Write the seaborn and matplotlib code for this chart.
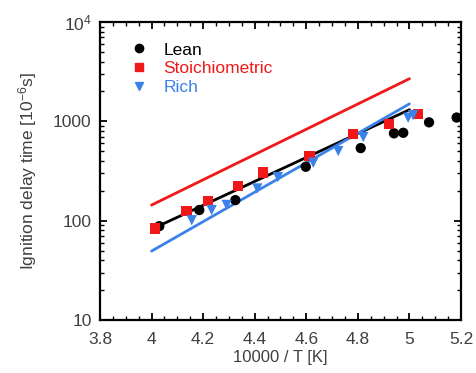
import numpy as np
import pandas as pd
import matplotlib
matplotlib.use("Agg")
import matplotlib.pyplot as plt
from matplotlib.ticker import (FixedLocator, FixedFormatter, MultipleLocator,
                               LogLocator, NullFormatter, FuncFormatter)
import seaborn as sns

# Measured ignition delay times (10000/T in K^-1, delay in microseconds)
lean_x = [4.03, 4.185, 4.325, 4.598, 4.811, 4.94, 4.976, 5.076, 5.183]
lean_y = [88, 128, 161, 349, 538, 757, 767, 977, 1092]

stoich_x = [4.013, 4.136, 4.218, 4.336, 4.433, 4.612, 4.78, 4.921, 5.033]
stoich_y = [83.5, 126, 157, 223, 306, 448, 745, 940, 1186]

rich_x = [4.156, 4.233, 4.291, 4.41, 4.49, 4.627, 4.724, 4.821, 4.995, 5.014]
rich_y = [101, 128, 144, 211, 275, 383, 502, 695, 1087, 1156]

# Arrhenius fit lines (end points)
fit_x = [4.0, 5.0]
lean_fit = [82, 1310]
stoich_fit = [143.6, 2686]
rich_fit = [49.4, 1500]

labels = ["Lean", "Stoichiometric", "Rich"]
colors = ["#000000", "#f01818", "#3a82ea"]
markers = ["o", "s", "v"]

sns.set_style("ticks")
plt.rcParams["font.family"] = ["Liberation Sans", "DejaVu Sans"]
plt.rcParams["mathtext.fontset"] = "custom"
plt.rcParams["mathtext.rm"] = "Liberation Sans"
plt.rcParams["mathtext.it"] = "Liberation Sans:italic"
plt.rcParams["mathtext.default"] = "regular"

text_col = "#404040"

fig = plt.figure(figsize=(4.77, 3.73), dpi=100)
ax = fig.add_axes([0.2096, 0.1421, 0.7569, 0.7989])

pts = pd.concat([
    pd.DataFrame({"x": lean_x, "y": lean_y, "set": labels[0]}),
    pd.DataFrame({"x": stoich_x, "y": stoich_y, "set": labels[1]}),
    pd.DataFrame({"x": rich_x, "y": rich_y, "set": labels[2]}),
])
fits = pd.concat([
    pd.DataFrame({"x": fit_x, "y": lean_fit, "set": labels[0]}),
    pd.DataFrame({"x": fit_x, "y": stoich_fit, "set": labels[1]}),
    pd.DataFrame({"x": fit_x, "y": rich_fit, "set": labels[2]}),
])
palette = dict(zip(labels, colors))

sns.lineplot(data=fits, x="x", y="y", hue="set", palette=palette,
             linewidth=2.0, legend=False, ax=ax, zorder=2)
sns.scatterplot(data=pts, x="x", y="y", hue="set", style="set",
                markers=dict(zip(labels, markers)), palette=palette,
                s=55, edgecolor="none", legend=False, ax=ax, zorder=3)

ax.set_yscale("log")
ax.set_xlim(3.8, 5.2)
ax.set_ylim(10, 1e4)

ax.xaxis.set_major_locator(MultipleLocator(0.2))
ax.xaxis.set_minor_locator(MultipleLocator(0.05))
ax.xaxis.set_major_formatter(FuncFormatter(lambda v, p: f"{v:g}"))

ax.yaxis.set_major_locator(FixedLocator([10, 100, 1000, 10000]))
ax.yaxis.set_major_formatter(FixedFormatter(["10", "100", "1000", "$10^4$"]))
ax.yaxis.set_minor_locator(LogLocator(base=10, subs=np.arange(2, 10)))
ax.yaxis.set_minor_formatter(NullFormatter())

ax.tick_params(which="both", direction="in", top=True, right=True,
               labelsize=12.5, labelcolor=text_col, color="black")
ax.tick_params(which="major", length=5, width=1.3)
ax.tick_params(which="minor", length=3, width=1.0)
ax.tick_params(axis="x", which="major", pad=9)
ax.tick_params(axis="y", which="major", pad=6)
for s in ax.spines.values():
    s.set_linewidth(1.6)
    s.set_color("black")

ax.set_xlabel("10000 / T [K]", fontsize=12, color=text_col, labelpad=2)
ax.set_ylabel("Ignition delay time [10$^{-6}$s]", fontsize=12.5,
              color=text_col, labelpad=10)

handles = [plt.Line2D([], [], linestyle="none", marker=m, color=c, markersize=6)
           for m, c in zip(markers, colors)]
leg = ax.legend(handles, labels, loc="upper left", frameon=False, fontsize=12.5,
                handlelength=1.0, handletextpad=0.9, labelspacing=0.2,
                bbox_to_anchor=(0.065, 0.955), borderaxespad=0)
for t, c in zip(leg.get_texts(), colors):
    t.set_color(c)

fig.savefig("out.png", dpi=100)
